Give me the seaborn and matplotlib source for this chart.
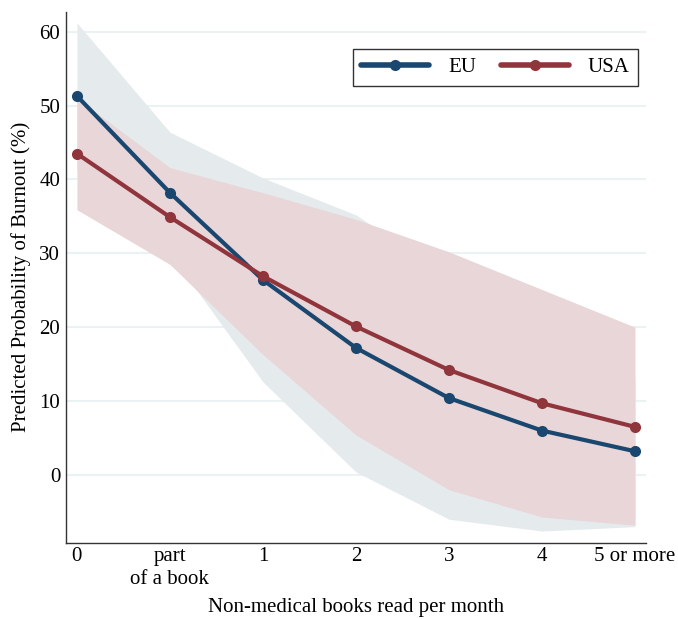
import numpy as np
import pandas as pd
import matplotlib
matplotlib.use("Agg")
import matplotlib.pyplot as plt
import seaborn as sns

# categories on the x axis
categories = ["0", "part\nof a book", "1", "2", "3", "4", "5 or more"]

# predicted probabilities (%) and confidence bands
eu_pred = [51.3, 38.2, 26.4, 17.2, 10.4, 6.0, 3.2]
eu_low = [41.4, 30.0, 12.6, 0.4, -6.0, -7.6, -7.0]
eu_high = [61.2, 46.4, 40.2, 35.2, 26.8, 19.6, 13.2]

usa_pred = [43.5, 34.9, 26.9, 20.1, 14.2, 9.7, 6.5]
usa_low = [35.9, 28.5, 16.3, 5.4, -2.0, -5.7, -6.8]
usa_high = [51.0, 41.6, 38.2, 34.6, 30.2, 25.1, 20.0]

eu_color = "#1a476f"
usa_color = "#90353b"

sns.set_style("white")
plt.rcParams['font.family'] = ['Liberation Serif', 'DejaVu Serif']
plt.rcParams['text.color'] = 'black'
plt.rcParams['axes.labelcolor'] = 'black'
plt.rcParams['xtick.color'] = 'black'
plt.rcParams['ytick.color'] = 'black'

x = np.arange(len(categories))
df = pd.DataFrame({
    "x": np.concatenate([x, x]),
    "prob": eu_pred + usa_pred,
    "region": ["EU"] * len(x) + ["USA"] * len(x),
})

fig = plt.figure(figsize=(6.78, 6.19), dpi=100)
ax = fig.add_axes([0.097, 0.123, 0.856, 0.858])

# confidence bands
ax.fill_between(x, eu_low, eu_high, color="#e5eaed", lw=0, zorder=1)
ax.fill_between(x, usa_low, usa_high, color="#e8d6d8", lw=0, zorder=1.5)

for yv in range(0, 61, 10):
    ax.axhline(yv, color="#eaf2f3", lw=1.5, zorder=0.5)

sns.lineplot(data=df, x="x", y="prob", hue="region", palette=[eu_color, usa_color],
             marker="o", markersize=8, markeredgewidth=0, linewidth=3,
             ax=ax, zorder=3)

ax.set_xlim(-0.12, 6.12)
ax.set_ylim(-9.2, 62.7)
ax.set_xticks(x)
ax.set_xticklabels(categories, fontsize=15, linespacing=1.3)
ax.set_yticks(range(0, 61, 10))
ax.set_yticklabels([str(v) for v in range(0, 61, 10)], fontsize=15)
ax.tick_params(axis="both", direction="in", length=6, width=1, color="#333333")
ax.tick_params(axis="x", pad=3)
ax.tick_params(axis="y", pad=4)

for s in ["top", "right"]:
    ax.spines[s].set_visible(False)
for s in ["left", "bottom"]:
    ax.spines[s].set_color("#333333")
    ax.spines[s].set_linewidth(1)

ax.set_xlabel("Non-medical books read per month", fontsize=15, labelpad=6)
ax.set_ylabel("Predicted Probability of Burnout (%)", fontsize=15, labelpad=6)

leg = ax.legend(title=None, ncol=2, loc="upper right", bbox_to_anchor=(1.004, 0.95),
                fontsize=15, frameon=True, fancybox=False, handlelength=3.25,
                columnspacing=1.2, borderpad=0.42, handletextpad=0.9)
leg.get_frame().set_edgecolor("black")
leg.get_frame().set_linewidth(1)
for h in leg.get_lines():
    h.set_linewidth(4)

fig.savefig("out.png", dpi=100)
